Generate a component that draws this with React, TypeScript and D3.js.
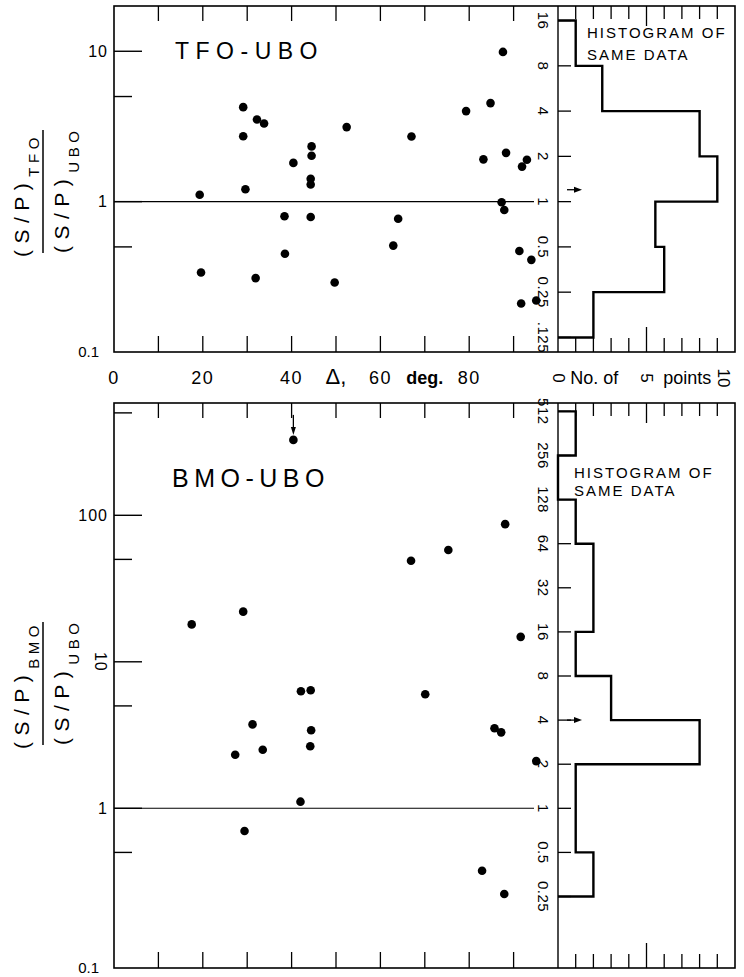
import React from 'react';
import * as d3 from 'd3';

// S/P amplitude ratios against epicentral distance
const tfoDelta = [19.3, 19.6, 29.1, 29.1, 29.6, 32.2, 33.8, 31.9, 38.4, 38.5, 40.4, 44.5, 44.5, 44.3, 44.3, 44.3, 52.4, 49.7,
    87.6, 79.3, 84.8, 67.0, 83.2, 88.3, 93.0, 91.9, 87.3, 87.9, 64.0, 62.9, 91.3, 94.0, 91.7, 95.1]
const tfoRatio = [1.11, 0.338, 4.25, 2.72, 1.21, 3.52, 3.31, 0.31, 0.80, 0.45, 1.81, 2.33, 2.02, 1.42, 1.30, 0.79, 3.13, 0.29,
    9.9, 4.0, 4.52, 2.71, 1.91, 2.11, 1.90, 1.71, 0.99, 0.88, 0.77, 0.51, 0.47, 0.41, 0.21, 0.22]

const bmoDelta = [17.5, 29.1, 31.2, 27.3, 33.5, 42.1, 44.3, 44.4, 44.2, 42.0, 29.4, 40.4,
    88.1, 75.3, 66.9, 91.6, 70.1, 85.7, 87.2, 95.1, 82.9, 87.9]
const bmoRatio = [18.0, 22, 3.74, 2.32, 2.51, 6.3, 6.4, 3.41, 2.65, 1.11, 0.70, 327,
    87, 58, 49, 14.8, 6.0, 3.52, 3.30, 2.10, 0.375, 0.26]
const bmoArrowIndex = 11

// histograms: lower edge of each octave bin, and the number of points in it
const tfoBinLow = [8, 4, 2, 1, 0.5, 0.25, 0.125]
const tfoBinCount = [1, 2.5, 8, 9, 5.5, 6, 2]
const bmoBinLow = [256, 128, 64, 32, 16, 8, 4, 2, 1, 0.5, 0.25]
const bmoBinCount = [1, 0, 1, 2, 2, 1, 3, 8, 1, 1, 2]
const tfoMedian = 1.2
const bmoMedian = 4

const tfoOctaves = [16, 8, 4, 2, 1, 0.5, 0.25, 0.125]
const tfoOctaveLabels = ['16', '8', '4', '2', '1', '0.5', '0.25', '.125']
const bmoOctaves = [512, 256, 128, 64, 32, 16, 8, 4, 2, 1, 0.5, 0.25]
const bmoOctaveLabels = ['512', '256', '128', '64', '32', '16', '8', '4', '2', '1', '0.5', '0.25']

const tfoMajor = [10, 1]
const tfoMajorLabels = ['10', '1']
const tfoMinor = [5, 0.5]
const bmoMajor = [100, 10, 1]
const bmoMajorLabels = ['100', '10', '1']
const bmoMinor = [500, 50, 5, 0.5]

const deltaTicks = [10, 20, 30, 40, 50, 60, 70, 80, 90]
const deltaLabels = [0, 20, 40, 60, 80]
const countTicks = [1, 2, 3, 4, 5, 6, 7, 8, 9]

const FONT = '"Liberation Sans", Arial, Helvetica, sans-serif'
const LEFT = 114
const MID = 558
const RIGHT = 735

const Panel = ({top, bottom, domain, delta, ratio, arrowIndex, major, majorLabels, rotateLabel, minor,
    octaves, octaveLabels, binLow, binCount, median, title, titleX, titleY, titleSize, titleSpacing,
    histTextX, histTextY, histLine, sub, cy}) => {

    const x = d3.scaleLinear().domain([0, 100]).range([LEFT, MID])
    const y = d3.scaleLog().domain(domain).range([bottom, top])
    const hx = d3.scaleLinear().domain([0, 10]).range([MID, RIGHT])

    const p = d3.path()
    p.moveTo(hx(0), y(binLow[0] * 2))
    binLow.forEach((lo, i) => {
        p.lineTo(hx(binCount[i]), y(lo * 2))
        p.lineTo(hx(binCount[i]), y(lo))
    })
    p.lineTo(hx(0), y(binLow[binLow.length - 1]))

    const my = y(median)

    return (
        <g>
            <rect x={LEFT} y={top} width={RIGHT - LEFT} height={bottom - top} fill='none' stroke='#000' strokeWidth={1.6}/>
            <line x1={MID} x2={MID} y1={top} y2={bottom} stroke='#000' strokeWidth={1.4}/>

            {/* delta ticks, top and bottom */}
            {deltaTicks.map(d => (
                <g key={d}>
                    <line x1={x(d)} x2={x(d)} y1={top} y2={top + 15} stroke='#000' strokeWidth={1.3}/>
                    <line x1={x(d)} x2={x(d)} y1={bottom} y2={bottom - 16} stroke='#000' strokeWidth={1.3}/>
                </g>
            ))}
            {/* count ticks on the histogram */}
            {countTicks.map(c => (
                <g key={c}>
                    <line x1={hx(c)} x2={hx(c)} y1={top} y2={top + (c === 5 ? 20 : 13)} stroke='#000' strokeWidth={1.3}/>
                    <line x1={hx(c)} x2={hx(c)} y1={bottom} y2={bottom - (c === 5 ? 25 : 14)} stroke='#000' strokeWidth={1.3}/>
                </g>
            ))}

            {/* ratio axis */}
            {major.map(v => (
                <line key={v} x1={LEFT} x2={LEFT + 28} y1={y(v)} y2={y(v)} stroke='#000' strokeWidth={1.4}/>
            ))}
            {minor.map(v => (
                <line key={v} x1={LEFT} x2={LEFT + 18} y1={y(v)} y2={y(v)} stroke='#000' strokeWidth={1.4}/>
            ))}
            {major.map((v, i) => rotateLabel[i]
                ? <text key={v} transform={`translate(${LEFT - 14},${y(v)}) rotate(90)`} textAnchor='middle'
                    dominantBaseline='central' fontSize={16} letterSpacing={1}>{majorLabels[i]}</text>
                : <text key={v} x={LEFT - 6} y={y(v)} textAnchor='end' dominantBaseline='central'
                    fontSize={16} letterSpacing={1}>{majorLabels[i]}</text>
            )}
            <text x={LEFT - 15} y={bottom - 1} textAnchor='end' dominantBaseline='central' fontSize={15}>0.1</text>

            {/* line at ratio 1 */}
            <line x1={LEFT} x2={MID - 24} y1={y(1)} y2={y(1)} stroke='#000' strokeWidth={1.1}/>

            {/* octave ticks and labels of the histogram */}
            {octaves.map((v, i) => (
                <g key={v}>
                    <line x1={MID} x2={MID + 13} y1={y(v)} y2={y(v)} stroke='#000' strokeWidth={1.3}/>
                    <text transform={`translate(${MID - 15},${y(v)}) rotate(90)`} textAnchor='middle'
                        dominantBaseline='central' fontSize={15} letterSpacing={0.5}>{octaveLabels[i]}</text>
                </g>
            ))}

            <path d={p.toString()} fill='none' stroke='#000' strokeWidth={2.4} strokeLinejoin='miter'/>

            {/* median arrow */}
            <line x1={MID + 9} x2={MID + 18} y1={my} y2={my} stroke='#000' strokeWidth={1.3}/>
            <path d={`M${MID + 24},${my} L${MID + 16},${my - 3} L${MID + 16},${my + 3} Z`} fill='#000'/>

            {/* points */}
            {delta.map((d, i) => (
                <circle key={i} cx={x(d)} cy={y(ratio[i])} r={4.3} fill='#000'/>
            ))}
            {arrowIndex !== undefined && (() => {
                const ax = x(delta[arrowIndex])
                const ay = y(ratio[arrowIndex])
                return (
                    <g>
                        <line x1={ax} x2={ax} y1={ay - 25} y2={ay - 11} stroke='#000' strokeWidth={1.3}/>
                        <path d={`M${ax},${ay - 5} L${ax - 2.5},${ay - 13} L${ax + 2.5},${ay - 13} Z`} fill='#000'/>
                    </g>
                )
            })()}

            <text x={titleX} y={titleY} fontSize={titleSize} letterSpacing={titleSpacing}>{title}</text>
            <text x={histTextX} y={histTextY} fontSize={15} letterSpacing={2}>HISTOGRAM OF</text>
            <text x={histTextX} y={histTextY + histLine} fontSize={15} letterSpacing={2}>SAME DATA</text>

            {/* ratio axis label as a fraction */}
            <text transform={`translate(29,${cy + 65}) rotate(-90)`} fontSize={21} letterSpacing={6.5}>
                (S/P)<tspan fontSize={15} dy={10} letterSpacing={4.5}>{sub}</tspan>
            </text>
            <line x1={43} x2={43} y1={cy - 62} y2={cy + 61} stroke='#000' strokeWidth={1.5}/>
            <text transform={`translate(69,${cy + 61}) rotate(-90)`} fontSize={21} letterSpacing={6.5}>
                (S/P)<tspan fontSize={15} dy={10} letterSpacing={4.5}>UBO</tspan>
            </text>
        </g>
    )
}

const App = () => {
    const x = d3.scaleLinear().domain([0, 100]).range([LEFT, MID])
    const hx = d3.scaleLinear().domain([0, 10]).range([MID, RIGHT])
    const labelY = 384

    return (
        <div style={{position: 'absolute', left: 0, top: 0}}>
            <svg width={744} height={977} style={{display: 'block', background: '#fff', fontFamily: FONT}} fill='#000'>
                <rect width={744} height={977} fill='#fff'/>
                <Panel top={6} bottom={352} domain={[0.1, 20]} delta={tfoDelta} ratio={tfoRatio}
                    major={tfoMajor} majorLabels={tfoMajorLabels} rotateLabel={[false, false]} minor={tfoMinor}
                    octaves={tfoOctaves} octaveLabels={tfoOctaveLabels} binLow={tfoBinLow} binCount={tfoBinCount}
                    median={tfoMedian} title='TFO-UBO' titleX={175} titleY={59} titleSize={23} titleSpacing={6.5}
                    histTextX={587} histTextY={38} histLine={22} sub='TFO' cy={192}/>
                <Panel top={403} bottom={968} domain={[0.0813, 584]} delta={bmoDelta} ratio={bmoRatio}
                    arrowIndex={bmoArrowIndex}
                    major={bmoMajor} majorLabels={bmoMajorLabels} rotateLabel={[false, true, false]} minor={bmoMinor}
                    octaves={bmoOctaves} octaveLabels={bmoOctaveLabels} binLow={bmoBinLow} binCount={bmoBinCount}
                    median={bmoMedian} title='BMO-UBO' titleX={172} titleY={487} titleSize={25} titleSpacing={5.5}
                    histTextX={574} histTextY={478} histLine={18} sub='BMO' cy={684}/>

                {/* delta axis labels under the upper panel */}
                {deltaLabels.map(d => (
                    <text key={d} x={x(d)} y={labelY} textAnchor='middle' fontSize={18} letterSpacing={1.5}>{d}</text>
                ))}
                <text x={x(50)} y={labelY} textAnchor='middle' fontSize={22}>Δ,</text>
                <text x={x(70)} y={labelY} textAnchor='middle' fontSize={18} fontWeight='bold'>deg.</text>

                {/* count axis labels */}
                <text transform={`translate(${hx(0)},${labelY - 6}) rotate(90)`} textAnchor='middle'
                    dominantBaseline='central' fontSize={17}>0</text>
                <text x={hx(2.05)} y={labelY} textAnchor='middle' fontSize={18}>No. of</text>
                <text transform={`translate(${hx(5)},${labelY - 6}) rotate(90)`} textAnchor='middle'
                    dominantBaseline='central' fontSize={17}>5</text>
                <text x={hx(7.3)} y={labelY} textAnchor='middle' fontSize={18}>points</text>
                <text transform={`translate(${hx(9.35)},${labelY - 6}) rotate(90)`} textAnchor='middle'
                    dominantBaseline='central' fontSize={17}>10</text>
            </svg>
        </div>
    )
}

export default App
